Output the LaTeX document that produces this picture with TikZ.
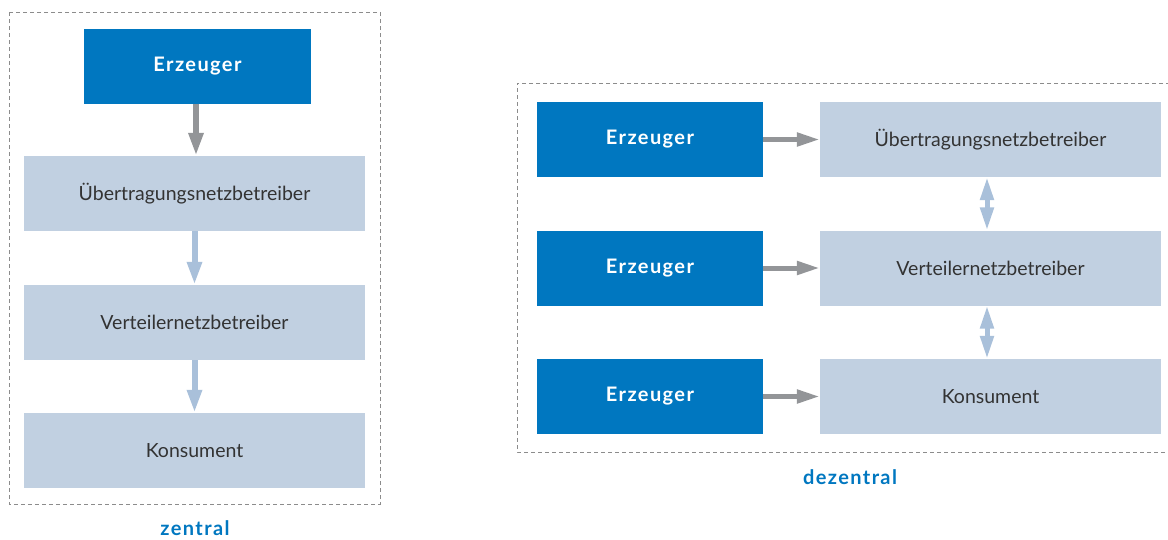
\documentclass[tikz,border=0pt]{standalone}
\usepackage{fontspec}
\setmainfont{Lato}
\usetikzlibrary{arrows.meta}
\definecolor{dblue}{HTML}{0077C0}
\definecolor{lblue}{HTML}{C1D0E1}
\definecolor{agray}{HTML}{939598}
\definecolor{ablue}{HTML}{A9C0DA}
\definecolor{txt}{HTML}{333333}
\definecolor{dash}{HTML}{8C8C8C}
\newcommand{\boldwide}{\fontsize{20}{24}\selectfont\bfseries\addfontfeatures{LetterSpace=7}}
\tikzset{
  darkbox/.style={rectangle, fill=dblue, text=white, font=\boldwide, minimum width=227pt, minimum height=75pt, inner sep=0pt},
  lightbox/.style={rectangle, fill=lblue, text=txt, font=\fontsize{19.5}{23}\selectfont, minimum width=341pt, minimum height=75pt, inner sep=0pt},
  grayarrow/.style={draw=agray, line width=6pt, -{Triangle[width=14pt,length=23pt]}},
  grayharrow/.style={draw=agray, line width=5pt, -{Triangle[width=13pt,length=23pt]}},
  bluearrow/.style={draw=ablue, line width=6pt, -{Triangle[width=14pt,length=23pt]}},
  dblarrow/.style={draw=ablue, line width=5pt, {Triangle[width=13pt,length=23pt]}-{Triangle[width=13pt,length=23pt]}},
  frame/.style={draw=dash, line width=1pt, dash pattern=on 4pt off 3pt},
  caption/.style={text=dblue, font=\boldwide, inner sep=1pt}
}
\begin{document}
\begin{tikzpicture}[x=1pt,y=-1pt]
\useasboundingbox (0,0) rectangle (1168,539);
% left frame
\draw[frame] (9,12) rectangle (380,504);
\node[darkbox] (e1) at (197.5,66) {Erzeuger};
\node[lightbox] (u1) at (194.5,193.5) {Übertragungsnetzbetreiber};
\node[lightbox] (v1) at (194.5,322.5) {Verteilernetzbetreiber};
\node[lightbox] (k1) at (194.5,450.5) {Konsument};
\coordinate (a1s) at (196,103);
\draw[grayarrow] (e1.south -| a1s) -- (u1.north -| a1s);
\draw[bluearrow] (u1.south) -- (v1.north);
\draw[bluearrow] (v1.south) -- (k1.north);
\node[caption] (zc) at (195,528.5) {zentral};
% right frame
\draw[frame] (1170,83) -- (517,83) -- (517,452) -- (1170,452);
\node[darkbox, minimum width=226pt] (e2) at (650,139.5) {Erzeuger};
\node[darkbox, minimum width=226pt] (e3) at (650,268) {Erzeuger};
\node[darkbox, minimum width=226pt] (e4) at (650,396.5) {Erzeuger};
\node[lightbox] (u2) at (990.5,139.5) {Übertragungsnetzbetreiber};
\node[lightbox] (v2) at (990.5,268) {Verteilernetzbetreiber};
\node[lightbox] (k2) at (990.5,396.5) {Konsument};
\draw[grayharrow] (e2.east) -- (u2.west);
\draw[grayharrow] (e3.east) -- (v2.west);
\draw[grayharrow] (e4.east) -- (k2.west);
\coordinate (dx) at (987,0);
\draw[dblarrow] (u2.south -| dx) -- (v2.north -| dx);
\draw[dblarrow] (v2.south -| dx) -- (k2.north -| dx);
\node[caption] (dc) at (850,477.5) {dezentral};
\end{tikzpicture}
\end{document}
